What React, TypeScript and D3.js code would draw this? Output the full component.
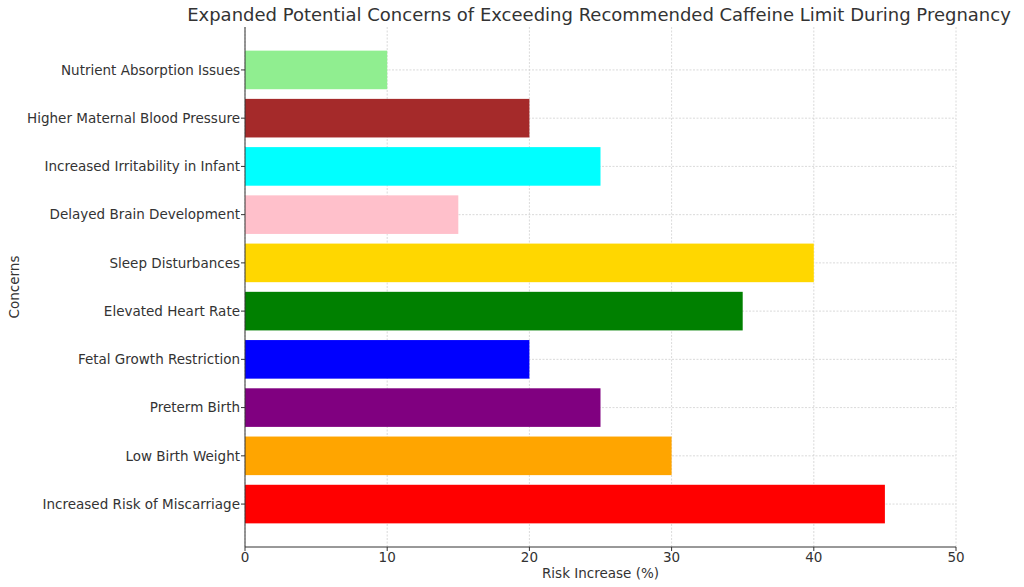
import React from "react";
import * as d3 from "d3";

const concerns = [
  "Increased Risk of Miscarriage",
  "Low Birth Weight",
  "Preterm Birth",
  "Fetal Growth Restriction",
  "Elevated Heart Rate",
  "Sleep Disturbances",
  "Delayed Brain Development",
  "Increased Irritability in Infant",
  "Higher Maternal Blood Pressure",
  "Nutrient Absorption Issues",
];
const riskValues = [45, 30, 25, 20, 35, 40, 15, 25, 20, 10];
const barColors = ["red", "orange", "purple", "blue", "green", "gold", "pink", "cyan", "brown", "lightgreen"];
const xTicks = [0, 10, 20, 30, 40, 50];

export default function App() {
  const W = 1024, H = 587;
  const left = 245, right = 956, top = 27, bottom = 547;
  const x = d3.scaleLinear().domain([0, 50]).range([left, right]);
  const y = d3.scaleLinear().domain([-0.89, 9.89]).range([bottom, top]);
  const bh = y(0) - y(0.8);
  const font = "DejaVu Sans, sans-serif";
  const tc = "#333";
  return (
    <svg width={W} height={H} style={{ position: "absolute", left: 0, top: 0, background: "#fff" }} fontFamily={font}>
      {xTicks.map((t) => (
        <line key={"gx" + t} x1={x(t)} x2={x(t)} y1={top} y2={bottom} stroke="#d0d0d0" strokeWidth={0.8} strokeDasharray="2,1.5" />
      ))}
      {concerns.map((c, i) => (
        <line key={"gy" + i} x1={left} x2={right} y1={y(i)} y2={y(i)} stroke="#d0d0d0" strokeWidth={0.8} strokeDasharray="2,1.5" />
      ))}
      {concerns.map((c, i) => (
        <rect key={"b" + i} x={x(0)} y={y(i + 0.4)} width={x(riskValues[i]) - x(0)} height={bh} fill={barColors[i]} />
      ))}
      <line x1={left} x2={left} y1={top} y2={bottom} stroke={tc} strokeWidth={1} />
      <line x1={left} x2={right} y1={bottom} y2={bottom} stroke={tc} strokeWidth={1} />
      {xTicks.map((t) => (
        <g key={"xt" + t}>
          <line x1={x(t)} x2={x(t)} y1={bottom} y2={bottom + 4} stroke={tc} />
          <text x={x(t)} y={bottom + 15} textAnchor="middle" fontSize={13.5} fill={tc}>{t}</text>
        </g>
      ))}
      {concerns.map((c, i) => (
        <g key={"yt" + i}>
          <line x1={left - 4} x2={left} y1={y(i)} y2={y(i)} stroke={tc} />
          <text x={left - 5} y={y(i)} dy="0.35em" textAnchor="end" fontSize={13.5} fill={tc}>{c}</text>
        </g>
      ))}
      <text x={(left + right) / 2} y={578} textAnchor="middle" fontSize={13.5} fill={tc}>Risk Increase (%)</text>
      <text transform={`translate(19,${(top + bottom) / 2}) rotate(-90)`} textAnchor="middle" fontSize={13.5} fill={tc}>Concerns</text>
      <text x={(left + right) / 2 - 1.5} y={21} textAnchor="middle" fontSize={18} fill={tc}>Expanded Potential Concerns of Exceeding Recommended Caffeine Limit During Pregnancy</text>
    </svg>
  );
}
